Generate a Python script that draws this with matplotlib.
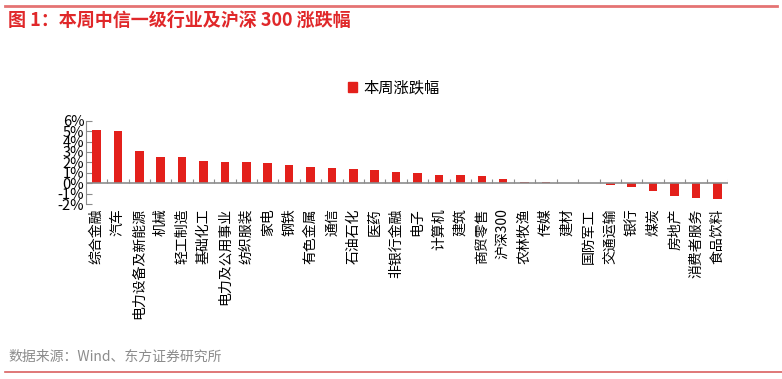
import matplotlib
matplotlib.use('Agg')
import matplotlib.pyplot as plt
from matplotlib.ticker import FuncFormatter
from matplotlib.lines import Line2D
from matplotlib.patches import Patch
import numpy as np

plt.rcParams['font.family'] = ['Noto Sans CJK SC', 'DejaVu Sans']

# 주간 등락률 데이터 (단위: %)
industries = ['综合金融', '汽车', '电力设备及新能源', '机械', '轻工制造', '基础化工',
              '电力及公用事业', '纺织服装', '家电', '钢铁', '有色金属', '通信',
              '石油石化', '医药', '非银行金融', '电子', '计算机', '建筑', '商贸零售',
              '沪深300', '农林牧渔', '传媒', '建材', '国防军工', '交通运输', '银行',
              '煤炭', '房地产', '消费者服务', '食品饮料']
weekly_change = [5.10, 5.00, 3.12, 2.50, 2.50, 2.11, 2.08, 2.05, 1.92, 1.72,
                 1.59, 1.43, 1.33, 1.23, 1.04, 0.97, 0.81, 0.81, 0.68, 0.36,
                 0.16, 0.13, 0.06, 0.03, -0.13, -0.32, -0.78, -1.23, -1.40, -1.49]
y_ticks = [-2, -1, 0, 1, 2, 3, 4, 5, 6]

RED = '#E3201B'
AXIS_GRAY = '#8C8C8C'

fig = plt.figure(figsize=(7.82, 3.79), dpi=100)
n = len(industries)
ax = fig.add_axes([85.7 / 782, 1 - 204 / 379, (728 - 85.7) / 782, (204 - 120.7) / 379])

x = np.arange(n)
ax.bar(x, weekly_change, width=0.4, color=RED, zorder=2)

ax.set_xlim(-0.5, n - 0.5)
ax.set_ylim(y_ticks[0], y_ticks[-1])
ax.set_yticks(y_ticks)
ax.yaxis.set_major_formatter(FuncFormatter(lambda v, p: f'{int(v)}%'))
ax.tick_params(axis='y', direction='in', length=4, color=AXIS_GRAY, labelsize=10.5, pad=1)

# x축 라벨은 축 아래쪽에 세로로
ax.set_xticks(x)
ax.set_xticklabels(industries, rotation=90, fontsize=10)
ax.tick_params(axis='x', length=0, pad=3)

for s in ['top', 'right', 'bottom']:
    ax.spines[s].set_visible(False)
ax.spines['left'].set_color(AXIS_GRAY)

# 0선과 카테고리 경계 눈금
ax.axhline(0, color=AXIS_GRAY, lw=1.2, zorder=3)
ax.vlines(np.arange(-0.5, n, 1.0), 0, 0.38, color=AXIS_GRAY, lw=0.8, zorder=3)

fig.legend(handles=[Patch(color=RED)], labels=['本周涨跌幅'], loc='center',
           bbox_to_anchor=(394 / 782, 1 - 88 / 379), frameon=False, fontsize=11,
           handlelength=0.6, handleheight=0.6, handletextpad=0.4)

fig.text(8 / 782, 1 - 20 / 379, '图 1：本周中信一级行业及沪深 300 涨跌幅', color='#E0282A',
         fontsize=13, fontweight='bold', va='center', ha='left')
fig.text(8 / 782, 1 - 357 / 379, '数据来源：Wind、东方证券研究所', color='#8C8C8C',
         fontsize=10, va='center', ha='left')
fig.add_artist(Line2D([5 / 782, 777 / 782], [1 - 5.5 / 379] * 2, color='#E57373', lw=2))
fig.add_artist(Line2D([5 / 782, 782 / 782], [1 - 372 / 379] * 2, color='#D96060', lw=1.2))

fig.savefig('out.png', dpi=100)
